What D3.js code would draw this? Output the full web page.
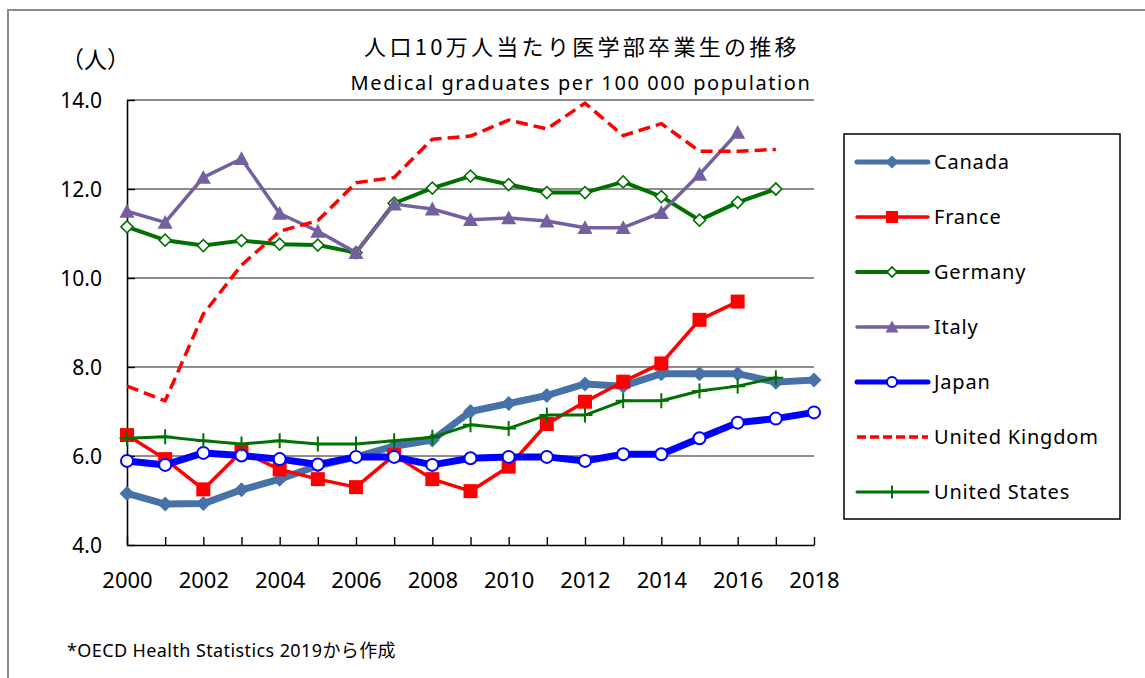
<!DOCTYPE html>
<html lang="ja">
<head>
<meta charset="UTF-8">
<title>Medical graduates</title>
<style>
  body { margin: 0; background: #fff; }
  text { font-family: "Noto Sans", "Noto Sans CJK JP", sans-serif; fill: #000; }
  .jp { font-family: "Noto Sans CJK JP", "Noto Sans", sans-serif; }
</style>
</head>
<body>
<svg id="chart"></svg>
<script src="https://d3js.org/d3.v7.min.js"></script>
<script>
// data
var years = d3.range(2000, 2019);
var canada  = [5.16, 4.92, 4.93, 5.24, 5.48, 5.78, 5.98, 6.22, 6.36, 7.0, 7.18, 7.36, 7.62, 7.57, 7.85, 7.85, 7.85, 7.66, 7.71];
var france  = [6.47, 5.93, 5.25, 6.1, 5.7, 5.48, 5.3, 6.02, 5.48, 5.21, 5.76, 6.72, 7.22, 7.67, 8.08, 9.06, 9.47];
var germany = [11.15, 10.85, 10.73, 10.84, 10.76, 10.74, 10.57, 11.68, 12.02, 12.29, 12.1, 11.92, 11.92, 12.16, 11.83, 11.3, 11.7, 12.0];
var italy   = [11.5, 11.25, 12.26, 12.68, 11.45, 11.05, 10.57, 11.66, 11.55, 11.31, 11.35, 11.28, 11.13, 11.13, 11.47, 12.33, 13.27];
var japan   = [5.89, 5.8, 6.07, 6.01, 5.93, 5.81, 5.98, 5.98, 5.8, 5.95, 5.98, 5.98, 5.89, 6.04, 6.04, 6.4, 6.75, 6.84, 6.98];
var uk      = [7.57, 7.24, 9.19, 10.29, 11.05, 11.29, 12.14, 12.26, 13.12, 13.19, 13.55, 13.35, 13.93, 13.2, 13.47, 12.85, 12.85, 12.89];
var us      = [6.4, 6.43, 6.34, 6.27, 6.34, 6.27, 6.27, 6.34, 6.42, 6.7, 6.62, 6.92, 6.92, 7.24, 7.24, 7.46, 7.57, 7.76];
var yTicks = [4, 6, 8, 10, 12, 14];
var xLabels = [2000, 2002, 2004, 2006, 2008, 2010, 2012, 2014, 2016, 2018];

var series = [
  {name: "Canada", values: canada, color: "#4672a8", width: 7, marker: "diamond", size: 15},
  {name: "France", values: france, color: "#ff0000", width: 3.5, marker: "square", size: 14},
  {name: "Germany", values: germany, color: "#007000", width: 4, marker: "odiamond", size: 12},
  {name: "Italy", values: italy, color: "#7460a0", width: 3.5, marker: "triangle", size: 15},
  {name: "Japan", values: japan, color: "#0000ff", width: 7, marker: "circle", size: 14},
  {name: "United Kingdom", values: uk, color: "#ff0000", width: 3.5, dash: "12,6", marker: null},
  {name: "United States", values: us, color: "#007000", width: 3, marker: "plus", size: 15}
];

var width = 1145, height = 678;
var svg = d3.select("#chart").attr("width", width).attr("height", height);

// outer frame
svg.append("rect").attr("x", 8).attr("y", 10).attr("width", 1150).attr("height", 690)
  .attr("fill", "none").attr("stroke", "#8c8c8c").attr("stroke-width", 2);

var x = d3.scaleLinear().domain([2000, 2018]).range([127, 814]);
var y = d3.scaleLinear().domain([4, 14]).range([545, 100]);

// gridlines
svg.append("g").selectAll("line").data(yTicks.filter(d => d > 4)).join("line")
  .attr("x1", x(2000)).attr("x2", x(2018))
  .attr("y1", d => y(d)).attr("y2", d => y(d))
  .attr("stroke", "#8c8c8c").attr("stroke-width", 1.8);

// axes
var yAxis = svg.append("g").attr("transform", "translate(" + x(2000) + ",0)")
  .call(d3.axisLeft(y).tickValues(yTicks).tickFormat(d3.format(".1f"))
    .tickSizeInner(-8).tickSizeOuter(0).tickPadding(25));
yAxis.selectAll("text").attr("font-size", 21).attr("dy", "0.35em")
  .style("font-family", "'Noto Sans', sans-serif");

var xAxis = svg.append("g").attr("transform", "translate(0," + y(4) + ")")
  .call(d3.axisBottom(x).tickValues(years)
    .tickFormat(d => xLabels.indexOf(d) >= 0 ? d : "")
    .tickSizeInner(-8).tickSizeOuter(0));
xAxis.selectAll("text").attr("font-size", 22).attr("y", 43).attr("dy", null)
  .style("font-family", "'Noto Sans', sans-serif");

[yAxis, xAxis].forEach(function (a) {
  a.select(".domain").attr("stroke", "#000").attr("stroke-width", 1.6);
  a.selectAll(".tick line").attr("stroke", "#000").attr("stroke-width", 1.4);
});

// marker drawing
function drawMarker(g, s, cx, cy) {
  var r = s.size / 2;
  if (s.marker === "diamond" || s.marker === "odiamond") {
    g.append("path").attr("d", d3.symbol(d3.symbolSquare, r * r * 2)())
      .attr("transform", "translate(" + cx + "," + cy + ") rotate(45)")
      .attr("fill", s.marker === "odiamond" ? "#fff" : s.color)
      .attr("stroke", s.color).attr("stroke-width", s.marker === "odiamond" ? 1.6 : 0);
  } else if (s.marker === "square") {
    g.append("rect").attr("x", cx - r).attr("y", cy - r).attr("width", 2 * r).attr("height", 2 * r)
      .attr("fill", s.color);
  } else if (s.marker === "triangle") {
    g.append("path").attr("d", "M0," + (-r) + "L" + r + "," + (r * 0.85) + "L" + (-r) + "," + (r * 0.85) + "Z")
      .attr("transform", "translate(" + cx + "," + cy + ")").attr("fill", s.color);
  } else if (s.marker === "circle") {
    g.append("circle").attr("cx", cx).attr("cy", cy).attr("r", r - 1)
      .attr("fill", "#fff").attr("stroke", s.color).attr("stroke-width", 2);
  } else if (s.marker === "plus") {
    g.append("path").attr("d", "M" + (cx - r) + "," + cy + "H" + (cx + r) + "M" + cx + "," + (cy - r) + "V" + (cy + r))
      .attr("stroke", s.color).attr("stroke-width", 2).attr("fill", "none");
  }
}

var line = d3.line().x((d, i) => x(years[i])).y(d => y(d));

series.forEach(function (s) {
  var g = svg.append("g");
  g.append("path").datum(s.values).attr("d", line)
    .attr("fill", "none").attr("stroke", s.color).attr("stroke-width", s.width)
    .attr("stroke-linejoin", "round").attr("stroke-linecap", s.dash ? "butt" : "round")
    .attr("stroke-dasharray", s.dash || null);
  if (s.marker) s.values.forEach((v, i) => drawMarker(g, s, x(years[i]), y(v)));
});

// legend
var lg = svg.append("g");
lg.append("rect").attr("x", 844).attr("y", 134).attr("width", 276).attr("height", 385)
  .attr("fill", "#fff").attr("stroke", "#000").attr("stroke-width", 1.5);
series.forEach(function (s, i) {
  var ly = 162 + i * 55;
  lg.append("line").attr("x1", 857).attr("x2", 928).attr("y1", ly).attr("y2", ly)
    .attr("stroke", s.color).attr("stroke-width", Math.min(s.width, 5))
    .attr("stroke-linecap", s.dash ? "butt" : "round")
    .attr("stroke-dasharray", s.dash ? "9,4" : null);
  if (s.marker) drawMarker(lg, Object.assign({}, s, {size: s.size - 2}), 892, ly);
  lg.append("text").attr("x", 934).attr("y", ly).attr("dy", "0.35em")
    .attr("font-size", 20).attr("letter-spacing", 0.8).text(s.name);
});

// titles
svg.append("text").attr("class", "jp").attr("x", 582).attr("y", 55).attr("text-anchor", "middle")
  .attr("font-size", 22).attr("letter-spacing", 3.3).text("人口10万人当たり医学部卒業生の推移");
svg.append("text").attr("x", 581).attr("y", 90).attr("text-anchor", "middle")
  .attr("font-size", 20).attr("letter-spacing", 1.6).text("Medical graduates per 100 000 population");
svg.append("text").attr("class", "jp").attr("x", 61).attr("y", 68)
  .attr("font-size", 23).text("（人）");
svg.append("text").attr("x", 67).attr("y", 657)
  .attr("font-size", 18).attr("letter-spacing", 0.4).text("*OECD Health Statistics 2019から作成");
</script>
</body>
</html>
